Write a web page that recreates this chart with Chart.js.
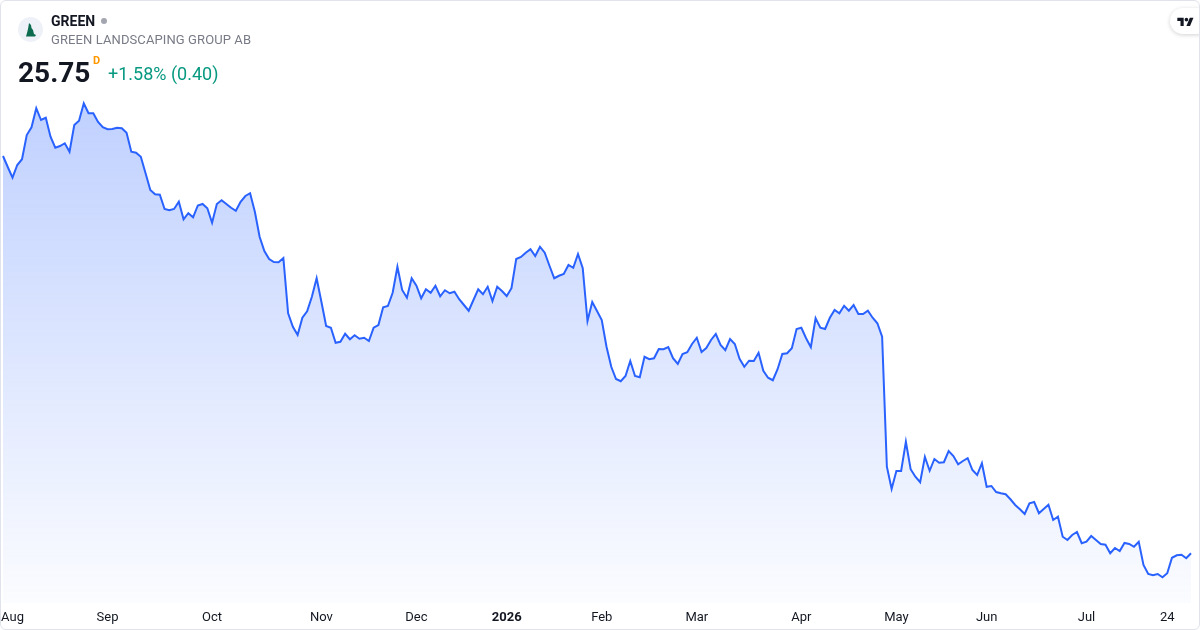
<!DOCTYPE html>
<html>
<head>
<meta charset="utf-8">
<script src="https://cdn.jsdelivr.net/npm/chart.js@4.4.1/dist/chart.umd.min.js"></script>
<style>
    body { margin: 0; background: #fff; font-family: Roboto, "Noto Sans", sans-serif; }
    #wrap { position: relative; width: 1200px; height: 630px; overflow: hidden; }
    #chartBox { position: absolute; left: 0; top: 0; width: 1200px; height: 630px; }
    #frame { position: absolute; left: 0; top: 0; width: 1200px; height: 630px; box-sizing: border-box;
             border: 1px solid #e0e3eb; border-radius: 6px; pointer-events: none; }
    .abs { position: absolute; white-space: nowrap; }
    #icon { left: 18px; top: 17px; width: 25px; height: 25px; border-radius: 50%; background: #eef1f8; }
    #ticker { left: 51px; top: 13px; font-size: 14px; font-weight: 700; color: #131722; }
    #dot { left: 101px; top: 18px; width: 6px; height: 6px; border-radius: 50%; background: #a3a6af; }
    #name { left: 51px; top: 32px; font-size: 13px; color: #787b86; letter-spacing: 0.1px; }
    #price { left: 18px; top: 56px; font-size: 28px; font-weight: 700; color: #131722; }
    #flag { left: 93px; top: 54px; font-size: 11px; font-weight: 700; color: #ff9800; }
    #change { left: 108px; top: 63px; font-size: 18px; color: #089981; }
    #logo { left: 1170px; top: 8px; width: 40px; height: 26px; border-radius: 13px; background: #fff;
            box-shadow: 0 1px 4px rgba(0,0,0,0.18); }
</style>
</head>
<body>
<div id="wrap">
    <div id="chartBox"><canvas id="chart"></canvas></div>
    <div class="abs" id="icon">
        <svg width="25" height="25" viewBox="0 0 25 25">
            <path d="M11 6 L13 8 L13.5 11 L15 13 L16 17 L18 18 L17 19.5 L8 19.5 L9 16 L10 12 L10.5 9 Z" fill="#0c6b4f"/>
        </svg>
    </div>
    <div class="abs" id="ticker">GREEN</div>
    <div class="abs" id="dot"></div>
    <div class="abs" id="name">GREEN LANDSCAPING GROUP AB</div>
    <div class="abs" id="price">25.75</div>
    <div class="abs" id="flag">D</div>
    <div class="abs" id="change">+1.58% (0.40)</div>
    <div class="abs" id="logo">
        <svg style="position:absolute;left:7px;top:8px" width="17" height="10" viewBox="0 0 36 22">
            <path d="M14 22H7V11H0V4h14v18z" fill="#131722"/>
            <circle cx="20" cy="8" r="4" fill="#131722"/>
            <path d="M28 22h-8l7.5-18h8L28 22z" fill="#131722"/>
        </svg>
    </div>
    <div id="frame"></div>
</div>
<script>
// cierres diarios (SEK)
const prices = [
    57.53, 56.65, 55.80, 56.81, 57.27, 59.21, 59.83, 61.35, 60.41, 60.59,
    59.07, 58.19, 58.33, 58.55, 57.87, 60.01, 60.35, 61.75, 60.95, 60.95,
    60.25, 59.83, 59.67, 59.69, 59.79, 59.75, 59.39, 57.87, 57.79, 57.47,
    56.15, 54.81, 54.47, 54.43, 53.29, 53.19, 53.29, 53.87, 52.47, 52.95,
    52.63, 53.57, 53.69, 53.35, 52.19, 53.69, 53.99, 53.69, 53.39, 53.15,
    53.87, 54.33, 54.55, 53.07, 51.07, 49.93, 49.29, 49.05, 49.03, 49.37,
    44.95, 43.87, 43.21, 44.59, 45.11, 46.27, 47.75, 45.87, 43.93, 43.79,
    42.59, 42.67, 43.31, 42.87, 43.19, 42.91, 42.99, 42.73, 43.79, 44.01,
    45.43, 45.53, 46.59, 48.67, 46.81, 46.19, 47.75, 47.15, 46.15, 46.87,
    46.59, 47.15, 46.31, 46.79, 46.55, 46.67, 46.07, 45.61, 45.15, 46.01,
    46.87, 46.47, 47.07, 45.93, 47.07, 46.73, 46.33, 46.95, 49.29, 49.45,
    49.79, 50.07, 49.53, 50.27, 49.79, 48.75, 47.75, 47.95, 48.09, 48.81,
    48.59, 49.69, 48.55, 44.33, 45.85, 45.13, 44.41, 42.27, 40.67, 39.69,
    39.51, 39.93, 41.13, 39.93, 39.83, 41.47, 41.27, 41.35, 42.09, 42.07,
    42.25, 41.35, 40.89, 41.69, 41.83, 42.49, 42.99, 41.85, 42.17, 42.81,
    43.29, 42.41, 41.99, 42.89, 42.49, 41.31, 40.67, 41.15, 41.13, 41.79,
    40.35, 39.79, 39.59, 40.47, 41.69, 41.75, 42.15, 43.69, 43.79, 42.95,
    42.23, 44.55, 43.79, 43.69, 44.59, 45.21, 44.95, 45.55, 45.15, 45.61,
    44.89, 44.89, 45.15, 44.59, 44.15, 43.07, 32.67, 30.89, 32.33, 32.33,
    34.67, 32.47, 31.87, 31.43, 33.45, 32.35, 33.29, 32.99, 33.03, 33.93,
    33.53, 32.87, 33.13, 33.35, 32.41, 32.01, 32.95, 31.07, 31.13, 30.65,
    30.55, 30.47, 30.07, 29.61, 29.27, 28.89, 29.75, 29.85, 28.95, 29.29,
    29.63, 28.41, 28.67, 27.07, 26.81, 27.21, 27.45, 26.55, 26.67, 27.13,
    26.81, 26.49, 26.43, 25.75, 26.17, 25.93, 26.57, 26.49, 26.27, 26.67,
    24.81, 24.09, 23.99, 24.09, 23.83, 24.15, 25.39, 25.59, 25.63, 25.35,
    25.75
];

// etiquetas del eje x: posición (índice del día) y texto
const tickIndex = [2, 22, 44, 67, 87, 106, 126, 146, 168, 188, 207, 228, 245];
const tickText = ['Aug', 'Sep', 'Oct', 'Nov', 'Dec', '2026', 'Feb', 'Mar', 'Apr', 'May', 'Jun', 'Jul', '24'];

// rango vertical visible
const yMin = 21.77;
const yMax = 62.81;

const labels = prices.map((p, i) => i);

new Chart(document.getElementById("chart"), {
    type: "line",
    data: {
        labels: labels,
        datasets: [{
            data: prices,
            borderColor: '#2962ff',
            borderWidth: 2,
            pointRadius: 0,
            tension: 0,
            fill: 'start',
            backgroundColor: (ctx) => {
                const area = ctx.chart.chartArea;
                if (!area) return 'rgba(41, 98, 255, 0.15)';
                const g = ctx.chart.ctx.createLinearGradient(0, area.top, 0, area.bottom);
                g.addColorStop(0, 'rgba(41, 98, 255, 0.30)');
                g.addColorStop(1, 'rgba(41, 98, 255, 0.02)');
                return g;
            },
        }],
    },
    options: {
        responsive: true,
        maintainAspectRatio: false,
        animation: false,
        layout: {
            padding: { left: 3, right: 9, top: 90, bottom: 0 },
        },
        scales: {
            y: {
                display: false,
                min: yMin,
                max: yMax,
            },
            x: {
                grid: { display: false, drawTicks: false },
                border: { display: false },
                afterFit: (scale) => {
                    scale.height = 27;
                    scale.paddingLeft = 0; // sin margen extra a los lados
                    scale.paddingRight = 0;
                },
                ticks: {
                    autoSkip: false,
                    maxRotation: 0,
                    minRotation: 0,
                    padding: 7,
                    color: '#131722',
                    font: (ctx) => ({
                        family: 'Roboto, "Noto Sans", sans-serif',
                        size: 13,
                        weight: ctx.tick && ctx.tick.label === '2026' ? 'bold' : 'normal',
                    }),
                    callback: function (value, index) {
                        const k = tickIndex.indexOf(index);
                        return k >= 0 ? tickText[k] : null;
                    },
                },
            },
        },
        plugins: {
            legend: { display: false },
            tooltip: { enabled: false },
        },
    },
});
</script>
</body>
</html>
